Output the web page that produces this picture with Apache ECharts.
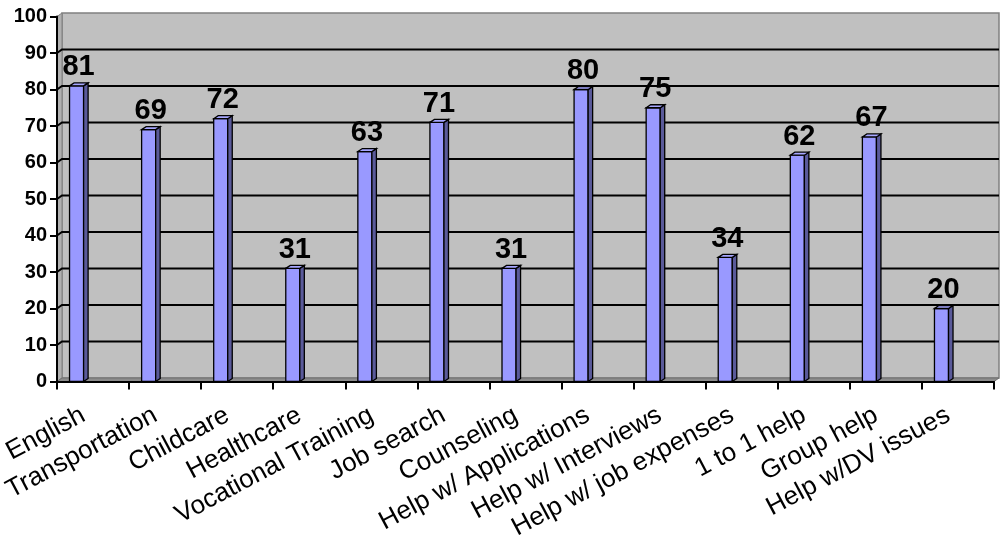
<!DOCTYPE html>
<html>
<head>
<meta charset="utf-8">
<script src="https://cdn.jsdelivr.net/npm/echarts@6/dist/echarts.min.js"></script>
<style>
  html, body { margin: 0; padding: 0; background: #fff; }
  #chart { width: 1003px; height: 542px; }
</style>
</head>
<body>
<div id="chart"></div>
<script>
// Services requested (counts per service)
const categories = [
  'English', 'Transportation', 'Childcare', 'Healthcare', 'Vocational Training',
  'Job search', 'Counseling', 'Help w/ Applications', 'Help w/ Interviews',
  'Help w/ job expenses', '1 to 1 help', 'Group help', 'Help w/DV issues'
];
const values = [81, 69, 72, 31, 63, 71, 31, 80, 75, 34, 62, 67, 20];
const yTicks = [0, 10, 20, 30, 40, 50, 60, 70, 80, 90, 100];

const FONT = '"Liberation Sans", Arial, Helvetica, sans-serif';
const WALL_DEPTH = [5, -3.5];   // how far the back wall sits behind the front axes
const BAR_DEPTH = [4.5, -3];    // depth of each 3-D column

// Back wall, left wall, floor and gridlines of the 3-D plot box
function renderWalls(params, api) {
  const cs = params.coordSys;
  const x0 = cs.x, x1 = cs.x + cs.width;
  const yt = cs.y, yb = cs.y + cs.height;
  const dx = WALL_DEPTH[0], dy = WALL_DEPTH[1];
  const children = [
    {
      type: 'polygon',
      shape: { points: [[x0 + dx, yt + dy], [x1 + dx, yt + dy], [x1 + dx, yb + dy], [x0 + dx, yb + dy]] },
      style: { fill: '#c0c0c0', stroke: '#808080', lineWidth: 1.5 }
    },
    {
      type: 'polygon',
      shape: { points: [[x0, yt], [x0 + dx, yt + dy], [x0 + dx, yb + dy], [x0, yb]] },
      style: { fill: '#b0b0b0', stroke: '#808080', lineWidth: 1 }
    },
    {
      type: 'polygon',
      shape: { points: [[x0, yb], [x0 + dx, yb + dy], [x1 + dx, yb + dy], [x1, yb]] },
      style: { fill: '#8c8c8c', stroke: '#707070', lineWidth: 1 }
    }
  ];
  const last = yTicks[yTicks.length - 1];
  yTicks.forEach(function (v) {
    if (v === 0 || v === last) return;
    const y = api.coord([0, v])[1];
    children.push({
      type: 'polyline',
      shape: { points: [[x0, y], [x0 + dx, y + dy], [x1 + dx, y + dy]] },
      style: { stroke: '#000', lineWidth: 2, fill: null }
    });
  });
  return { type: 'group', children: children };
}

// One 3-D column with its value label
function renderBar(params, api) {
  const idx = api.value(0);
  const v = api.value(1);
  const top = api.coord([idx, v]);
  const base = api.coord([idx, 0]);
  const band = api.size([1, 0])[0];
  const xl = top[0] - band * 0.326;
  const xr = xl + band * 0.195;
  const yt = top[1], yb = base[1];
  const dx = BAR_DEPTH[0], dy = BAR_DEPTH[1];
  const edge = { stroke: '#000', lineWidth: 1.3 };
  return {
    type: 'group',
    children: [
      {
        type: 'polygon',
        shape: { points: [[xl, yt], [xr, yt], [xr, yb], [xl, yb]] },
        style: Object.assign({ fill: '#9999ff' }, edge)
      },
      {
        type: 'polygon',
        shape: { points: [[xr, yt], [xr + dx, yt + dy], [xr + dx, yb + dy], [xr, yb]] },
        style: Object.assign({ fill: '#5a5a9a' }, edge)
      },
      {
        type: 'polygon',
        shape: { points: [[xl, yt], [xl + dx, yt + dy], [xr + dx, yt + dy], [xr, yt]] },
        style: Object.assign({ fill: '#a6a6ff' }, edge)
      },
      {
        type: 'text',
        style: {
          text: String(v),
          x: (xl + xr) / 2 + 2,
          y: yt - 4,
          align: 'center',
          verticalAlign: 'bottom',
          fontSize: 29,
          fontWeight: 'bold',
          fontFamily: FONT,
          fill: '#000'
        }
      }
    ]
  };
}

const chart = echarts.init(document.getElementById('chart'), null, { renderer: 'canvas' });
chart.setOption({
  animation: false,
  backgroundColor: '#ffffff',
  grid: {
    left: 57, right: 9, top: 16.5, bottom: 160.5,
    containLabel: false,
    outerBoundsMode: 'none'
  },
  xAxis: {
    type: 'category',
    data: categories,
    boundaryGap: true,
    z: 10,
    axisLine: { show: true, lineStyle: { color: '#000', width: 2 } },
    axisTick: { show: true, length: 8, lineStyle: { color: '#000', width: 2 } },
    axisLabel: {
      interval: 0,
      rotate: 28,
      margin: 27,
      padding: [0, 11, 0, 0],
      color: '#000',
      fontSize: 26,
      fontFamily: FONT
    },
    splitLine: { show: false }
  },
  yAxis: {
    type: 'value',
    min: 0,
    max: 100,
    interval: 10,
    z: 10,
    axisLine: { show: true, lineStyle: { color: '#000', width: 2 } },
    axisTick: { show: true, length: 7, lineStyle: { color: '#000', width: 2 } },
    axisLabel: {
      margin: 10,
      color: '#000',
      fontSize: 20,
      fontWeight: 'bold',
      fontFamily: FONT
    },
    splitLine: { show: false }
  },
  series: [
    {
      type: 'custom',
      name: 'walls',
      silent: true,
      z: 1,
      clip: false,
      renderItem: renderWalls,
      data: [[0, 0]],
      encode: { x: 0, y: 1 }
    },
    {
      type: 'custom',
      name: 'Services',
      z: 3,
      clip: false,
      renderItem: renderBar,
      data: values.map(function (v, i) { return [i, v]; }),
      encode: { x: 0, y: 1 }
    }
  ]
});
</script>
</body>
</html>
